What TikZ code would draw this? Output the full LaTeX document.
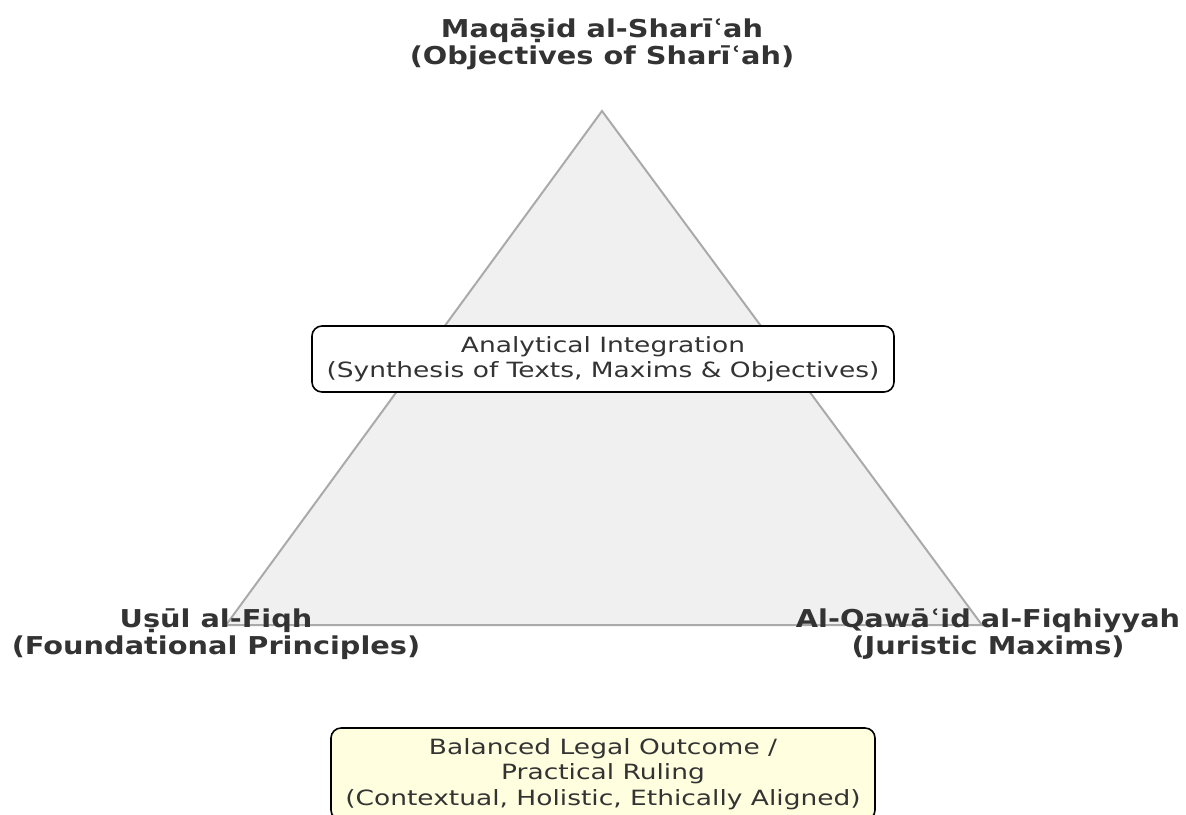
\documentclass[tikz,border=0pt]{standalone}
\usepackage{fontspec}
\setmainfont[FakeStretch=1.26, BoldFeatures={FakeStretch=1.17}]{DejaVu Sans}
\definecolor{inkgray}{HTML}{333333}
\definecolor{trifill}{HTML}{F0F0F0}
\definecolor{triedge}{HTML}{AAAAAA}
\definecolor{outcomefill}{HTML}{FFFFE0}
\begin{document}
\begin{tikzpicture}[x=0.5pt, y=-0.5pt,
    vertexlabel/.style={font=\bfseries\fontsize{12.3}{13.5}\selectfont, text=inkgray, align=center, inner sep=0pt},
    synthbox/.style={draw=black, fill=white, rounded corners=5pt, line width=0.8pt, align=center,
      font=\fontsize{10.5}{12.6}\selectfont, text=inkgray, minimum width=291pt, minimum height=33pt, inner sep=0pt},
    outcomebox/.style={synthbox, fill=outcomefill, minimum width=272pt, minimum height=46pt}]
  \useasboundingbox (0,0) rectangle (1186,814);
  \coordinate (apex) at (602,111);
  \coordinate (baseL) at (226,625);
  \coordinate (baseR) at (982,625);
  \filldraw[fill=trifill, draw=triedge, line width=1pt] (apex) -- (baseL) -- (baseR) -- cycle;
  \node[vertexlabel] (maqasid) at (602,44) {Maqāṣid al-Sharīʿah\\(Objectives of Sharīʿah)};
  \node[vertexlabel] (usul) at (216,634) {Uṣūl al-Fiqh\\(Foundational Principles)};
  \node[vertexlabel] (qawaid) at (988,634) {Al-Qawāʿid al-Fiqhiyyah\\(Juristic Maxims)};
  \node[synthbox] (integration) at (603,359) {Analytical Integration\\(Synthesis of Texts, Maxims \& Objectives)};
  \node[outcomebox] (outcome) at (603,774) {Balanced Legal Outcome /\\Practical Ruling\\(Contextual, Holistic, Ethically Aligned)};
\end{tikzpicture}
\end{document}
